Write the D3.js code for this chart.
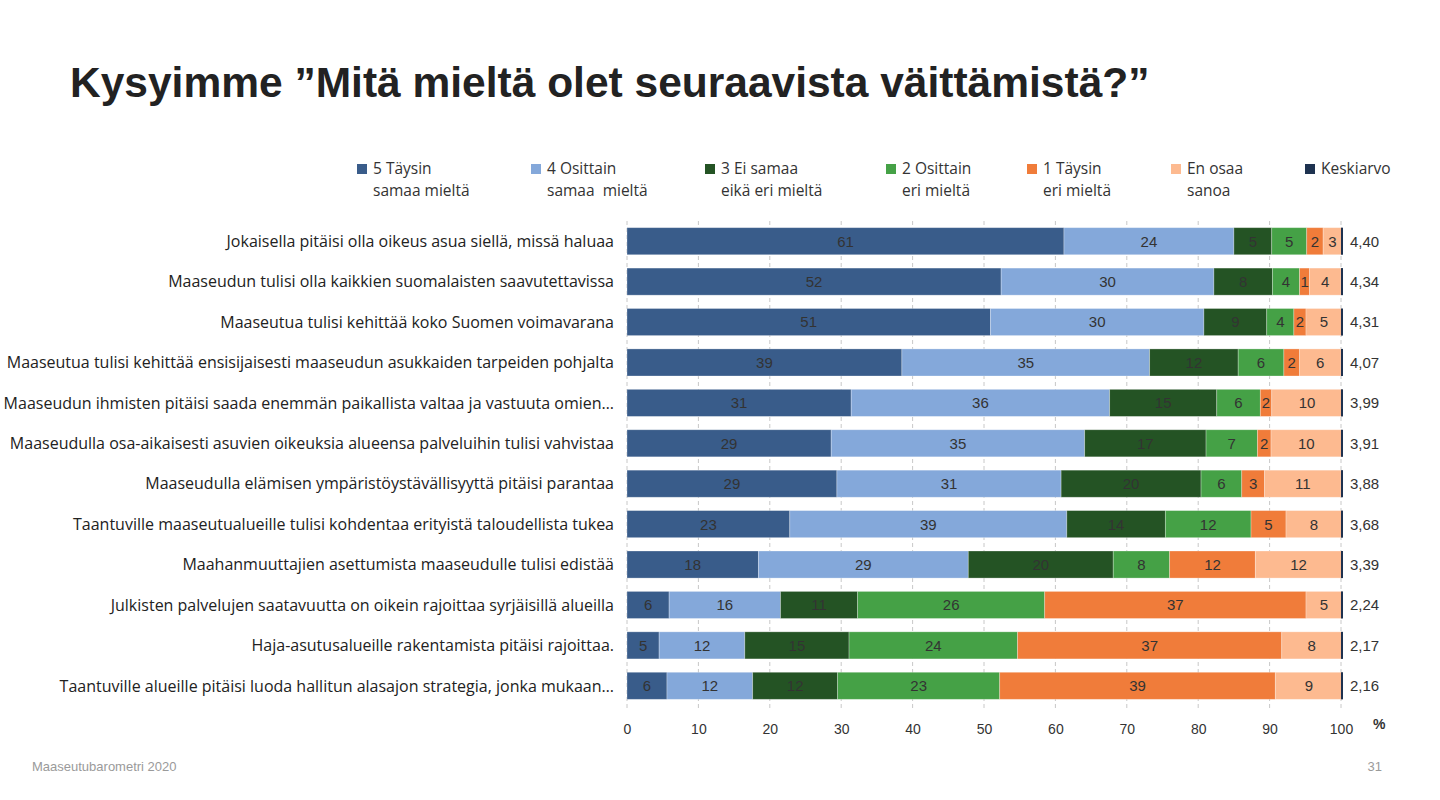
<!DOCTYPE html>
<html><head><meta charset="utf-8">
<script src="https://cdn.jsdelivr.net/npm/d3@7"></script>
<style>body{margin:0;background:#fff;} svg{display:block;}</style>
</head><body>
<svg id="c" width="1440" height="800"></svg>
<script>
const categories = [
  "Jokaisella pitäisi olla oikeus asua siellä, missä haluaa",
  "Maaseudun tulisi olla kaikkien suomalaisten saavutettavissa",
  "Maaseutua tulisi kehittää koko Suomen voimavarana",
  "Maaseutua tulisi kehittää ensisijaisesti maaseudun asukkaiden tarpeiden pohjalta",
  "Maaseudun ihmisten pitäisi saada enemmän paikallista valtaa ja vastuuta omien…",
  "Maaseudulla osa-aikaisesti asuvien oikeuksia alueensa palveluihin tulisi vahvistaa",
  "Maaseudulla elämisen ympäristöystävällisyyttä pitäisi parantaa",
  "Taantuville maaseutualueille tulisi kohdentaa erityistä taloudellista tukea",
  "Maahanmuuttajien asettumista maaseudulle tulisi edistää",
  "Julkisten palvelujen saatavuutta on oikein rajoittaa syrjäisillä alueilla",
  "Haja-asutusalueille rakentamista pitäisi rajoittaa.",
  "Taantuville alueille pitäisi luoda hallitun alasajon strategia, jonka mukaan…"
];
const seriesNames = ["5 Täysin|samaa mieltä","4 Osittain|samaa  mieltä","3 Ei samaa|eikä eri mieltä","2 Osittain|eri mieltä","1 Täysin|eri mieltä","En osaa|sanoa","Keskiarvo"];
const taysinSamaa   = [61.2,52.4,50.9,38.5,31.4,28.6,29.4,22.8,18.4,5.9,4.5,5.6];
const osittainSamaa = [23.8,29.8,29.9,34.7,36.2,35.5,31.4,38.8,29.4,15.6,12.0,12.0];
const eiSamaaEiEri  = [5.3,8.2,8.8,12.4,15.0,17.0,19.6,13.8,20.3,10.8,14.6,11.9];
const osittainEri   = [4.9,3.8,3.8,6.4,6.1,7.2,5.7,12.0,7.9,26.2,23.6,22.7];
const taysinEri     = [2.3,1.4,1.7,2.2,1.6,1.9,3.2,4.9,12.0,36.6,37.0,38.6];
const enOsaa        = [2.6,4.4,5.0,5.8,9.9,9.9,10.7,7.8,12.1,5.0,8.4,9.4];
const keskiarvo     = ["4,40","4,34","4,31","4,07","3,99","3,91","3,88","3,68","3,39","2,24","2,17","2,16"];
const xTicks = [0,10,20,30,40,50,60,70,80,90,100];

const colors = ["#395c8a","#84a8da","#245324","#45a146","#f07c3a","#fdba90","#1e3250"];
const seriesData = [taysinSamaa,osittainSamaa,eiSamaaEiEri,osittainEri,taysinEri,enOsaa];

const svg = d3.select("#c");
const FONT = "'Liberation Sans', Arial, sans-serif";
const LFONT = "'Open Sans', sans-serif";
const plotL = 627, plotR = 1341, plotT = 221, plotB = 706;

svg.append("text").attr("x",70).attr("y",97)
  .attr("font-family",FONT).attr("font-weight","bold").attr("font-size",42.5)
  .attr("fill","#222").text("Kysyimme ”Mitä mieltä olet seuraavista väittämistä?”");

const x = d3.scaleLinear().domain([0,100]).range([plotL,plotR]);
const y = d3.scaleBand().domain(categories).range([plotT,plotB]).paddingInner(0.33).paddingOuter(0.165);

// gridlines
svg.append("g").selectAll("line").data(xTicks).join("line")
  .attr("x1",d=>x(d)).attr("x2",d=>x(d)).attr("y1",plotT).attr("y2",plotB+4)
  .attr("stroke","#c8c8c8").attr("stroke-width",1).attr("stroke-dasharray","4,3");

// axis
const axis = d3.axisBottom(x).tickValues(xTicks).tickSize(0).tickPadding(0);
const ax = svg.append("g").attr("transform",`translate(0,${plotB+23})`).call(axis);
ax.select(".domain").remove();
ax.selectAll("text").attr("font-family",FONT).attr("font-size",14).attr("fill","#333").attr("dy","0.35em");
svg.append("text").attr("x",1373).attr("y",729).attr("font-family",FONT).attr("font-size",14).attr("font-weight","bold").attr("fill","#333").text("%");

// stacked data
const rows = categories.map((c,i)=>({cat:c, vals:seriesData.map(s=>s[i])}));
const stacked = d3.stack().keys(d3.range(6)).value((d,k)=>d.vals[k])(rows);

stacked.forEach((layer,k)=>{
  const lg = svg.append("g");
  lg.selectAll("rect").data(layer).join("rect")
    .attr("x",d=>x(d[0])).attr("width",d=>x(d[1])-x(d[0]))
    .attr("y",d=>y(d.data.cat)).attr("height",y.bandwidth())
    .attr("fill",colors[k]).attr("stroke","#ffffff").attr("stroke-opacity",0.35).attr("stroke-width",0.8);
  lg.selectAll("text").data(layer).join("text")
    .attr("x",d=>(x(d[0])+x(d[1]))/2).attr("y",d=>y(d.data.cat)+y.bandwidth()/2)
    .attr("dy","0.36em").attr("text-anchor","middle")
    .attr("font-family",FONT).attr("font-size",15).attr("fill","#333")
    .text(d=>Math.round(d[1]-d[0]));
});

// keskiarvo marker + values
svg.append("g").selectAll("rect").data(categories).join("rect")
  .attr("x",x(100)).attr("width",2).attr("y",d=>y(d)).attr("height",y.bandwidth()).attr("fill",colors[6]);
svg.append("g").selectAll("text").data(categories).join("text")
  .attr("x",1350).attr("y",d=>y(d)+y.bandwidth()/2).attr("dy","0.36em")
  .attr("font-family",FONT).attr("font-size",15).attr("fill","#333")
  .text((d,i)=>keskiarvo[i]);

// category labels
svg.append("g").selectAll("text").data(categories).join("text")
  .attr("x",614).attr("y",d=>y(d)+y.bandwidth()/2).attr("dy","0.36em").attr("text-anchor","end")
  .attr("font-family",LFONT).attr("font-size",16).attr("fill","#222").text(d=>d);

// legend
const legX = [357,531,705,886,1027,1171,1305];
const leg = svg.append("g");
seriesNames.forEach((n,i)=>{
  leg.append("rect").attr("x",legX[i]).attr("y",164).attr("width",10).attr("height",10).attr("fill",colors[i]);
  n.split("|").forEach((p,j)=>{
    leg.append("text").attr("x",legX[i]+16).attr("y",174+j*22).attr("font-family",LFONT).attr("font-size",15.5)
      .attr("fill","#333").style("white-space","pre").text(p);
  });
});

// footer
svg.append("text").attr("x",32).attr("y",771).attr("font-family",FONT).attr("font-size",13).attr("fill","#9a9a9a").text("Maaseutubarometri 2020");
svg.append("text").attr("x",1382).attr("y",771).attr("text-anchor","end").attr("font-family",FONT).attr("font-size",13).attr("fill","#9a9a9a").text("31");
</script>
</body></html>
